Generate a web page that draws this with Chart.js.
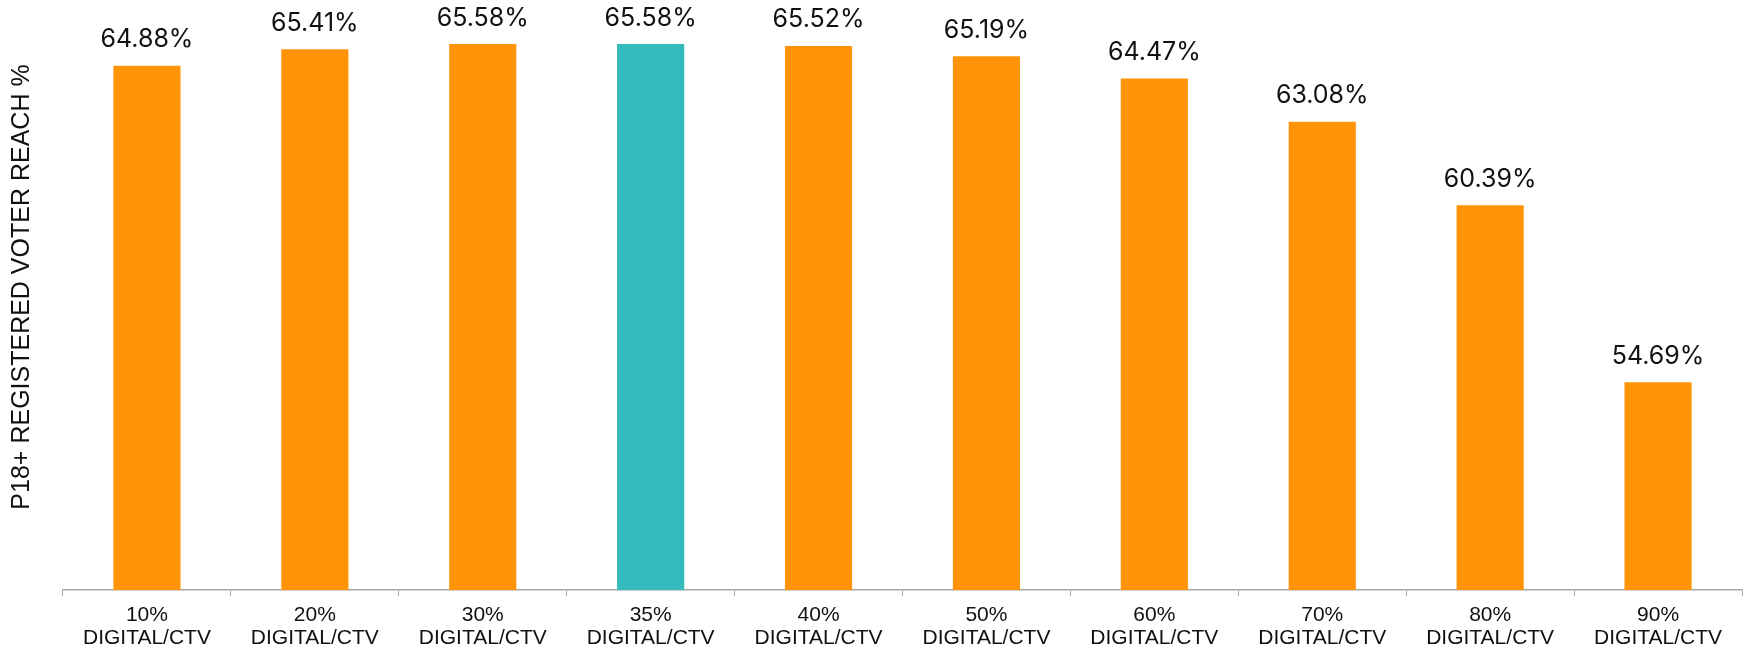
<!DOCTYPE html>
<html>
<head>
<meta charset="utf-8">
<script src="https://cdn.jsdelivr.net/npm/chart.js@4/dist/chart.umd.min.js"></script>
<style>
  html, body { margin: 0; padding: 0; background: #fff; }
  #wrap { width: 1750px; height: 651px; }
</style>
</head>
<body>
<div id="wrap"><canvas id="reachChart" width="1750" height="651"></canvas></div>
<script>
// digital/CTV share of the mix
const mixLabels = ["10%", "20%", "30%", "35%", "40%", "50%", "60%", "70%", "80%", "90%"];
const mixSuffix = "DIGITAL/CTV";
// P18+ registered voter reach, in percent
const reachValues = [64.88, 65.41, 65.58, 65.58, 65.52, 65.19, 64.47, 63.08, 60.39, 54.69];
const highlightIndex = 3; // the recommended 35% mix

const orange = "#FF9408";
const teal = "#33BABA";
const axisGrey = "#A6A6A6";

const barColors = reachValues.map((v, i) => i === highlightIndex ? teal : orange);

// percent labels above each bar
const valueLabels = {
  id: "valueLabels",
  afterDatasetsDraw(chart) {
    const ctx = chart.ctx;
    const meta = chart.getDatasetMeta(0);
    ctx.save();
    ctx.font = "25px Inter, 'Liberation Sans', Arial, sans-serif";
    ctx.fillStyle = "#111";
    ctx.textAlign = "center";
    ctx.textBaseline = "alphabetic";
    meta.data.forEach((bar, i) => {
      ctx.fillText(reachValues[i].toFixed(2) + "%", bar.x, bar.y - 18.5);
    });
    ctx.restore();
  }
};

// vertical axis title on the left
const sideTitle = {
  id: "sideTitle",
  afterDraw(chart) {
    const ctx = chart.ctx;
    ctx.save();
    ctx.translate(22, 287);
    ctx.rotate(-Math.PI / 2);
    ctx.font = "25px 'Liberation Sans', Arial, sans-serif";
    ctx.fillStyle = "#111";
    ctx.textAlign = "center";
    ctx.textBaseline = "middle";
    ctx.fillText("P18+ REGISTERED VOTER REACH %", 0, 0);
    ctx.restore();
  }
};

new Chart(document.getElementById("reachChart"), {
  type: "bar",
  data: {
    labels: mixLabels.map(l => [l, mixSuffix]),
    datasets: [{
      data: reachValues,
      backgroundColor: barColors,
      borderWidth: 0,
      barPercentage: 0.4,
      categoryPercentage: 1.0
    }]
  },
  options: {
    responsive: false,
    animation: false,
    layout: { padding: { left: 63, right: 8, top: 0, bottom: 0 } },
    plugins: {
      legend: { display: false },
      tooltip: { enabled: false }
    },
    scales: {
      x: {
        grid: {
          display: true,
          drawOnChartArea: false,
          drawTicks: true,
          tickLength: 6,
          color: axisGrey,
          lineWidth: 1
        },
        border: { display: true, color: axisGrey, width: 1.5 },
        ticks: {
          padding: 8,
          color: "#111",
          font: { family: "'Liberation Sans', Arial, sans-serif", size: 21, lineHeight: 1.1 }
        },
        afterFit(scale) { scale.height = 61; }
      },
      y: {
        display: false,
        min: 48,
        max: 67
      }
    }
  },
  plugins: [valueLabels, sideTitle]
});
</script>
</body>
</html>
